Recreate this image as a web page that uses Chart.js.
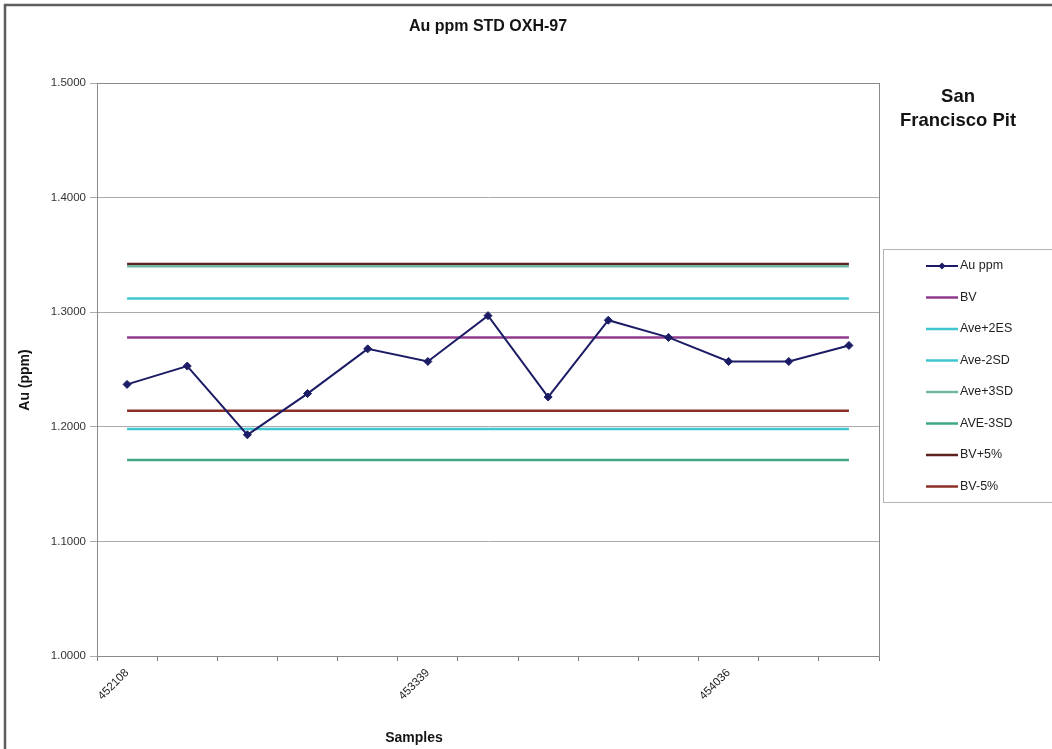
<!DOCTYPE html>
<html>
<head>
<meta charset="utf-8">
<title>Au ppm STD OXH-97</title>
<script src="https://cdn.jsdelivr.net/npm/chart.js@4.4.1/dist/chart.umd.min.js"></script>
<style>
  html, body { margin: 0; padding: 0; background: #ffffff; overflow: hidden; }
  #wrap { position: relative; width: 1052px; height: 749px; }
</style>
</head>
<body>
<div id="wrap"><canvas id="chart" width="1052" height="749"></canvas></div>
<script>
// Sample IDs along the x axis (only every fifth one is printed)
const sampleLabels = ['452108', '', '', '', '', '453339', '', '', '', '', '454036', '', ''];
// Assayed gold values for the standard
const auPpm = [1.237, 1.253, 1.193, 1.229, 1.268, 1.257, 1.297, 1.226, 1.293, 1.278, 1.257, 1.257, 1.271];
// Control limits drawn as horizontal reference lines
const limitNames  = ['BV', 'Ave+2ES', 'Ave-2SD', 'Ave+3SD', 'AVE-3SD', 'BV+5%', 'BV-5%'];
const limitValues = [1.278, 1.312, 1.198, 1.340, 1.171, 1.342, 1.214];
const limitColors = ['#8e3b8e', '#3fc6d0', '#3fc6d0', '#6fb8a4', '#3fa882', '#5e2220', '#8c2f24'];
// Value axis ticks
const yTicks = [1.0, 1.1, 1.2, 1.3, 1.4, 1.5];

const FONT = 'Arial, "Liberation Sans", Helvetica, sans-serif';
const AU_COLOR = '#1c1c66';

const datasets = [{
  label: 'Au ppm',
  data: auPpm,
  borderColor: AU_COLOR,
  backgroundColor: AU_COLOR,
  borderWidth: 2,
  pointStyle: 'rectRot',
  pointRadius: 4,
  pointBorderWidth: 1,
  tension: 0
}];
limitNames.forEach((name, i) => {
  datasets.push({
    label: name,
    data: sampleLabels.map(() => limitValues[i]),
    borderColor: limitColors[i],
    backgroundColor: limitColors[i],
    borderWidth: 2.5,
    pointRadius: 0,
    tension: 0
  });
});

// Frame, titles, side note and legend box
const decorations = {
  id: 'decorations',
  beforeDraw(chart) {
    const ctx = chart.ctx;
    ctx.save();
    ctx.fillStyle = '#ffffff';
    ctx.fillRect(0, 0, chart.width, chart.height);
    ctx.restore();
  },
  afterDraw(chart) {
    const ctx = chart.ctx;
    const area = chart.chartArea;
    ctx.save();

    // plot area outline
    ctx.strokeStyle = '#8a8a8a';
    ctx.lineWidth = 1;
    ctx.strokeRect(area.left + 0.5, area.top + 0.5, area.right - area.left, area.bottom - area.top);

    // outer frame
    ctx.strokeStyle = '#5e5e5e';
    ctx.lineWidth = 2.5;
    ctx.strokeRect(5, 5, chart.width + 20, chart.height + 20);

    ctx.fillStyle = '#141414';
    ctx.textAlign = 'center';
    ctx.textBaseline = 'middle';

    // main title
    ctx.font = 'bold 16px ' + FONT;
    ctx.fillText('Au ppm STD OXH-97', (area.left + area.right) / 2, 27);

    // pit name
    ctx.font = 'bold 18.5px ' + FONT;
    ctx.fillText('San', 958, 97);
    ctx.fillText('Francisco Pit', 958, 121);

    // axis titles
    ctx.font = 'bold 14px ' + FONT;
    ctx.fillText('Samples', 414, 738);
    ctx.save();
    ctx.translate(25, 380);
    ctx.rotate(-Math.PI / 2);
    ctx.fillText('Au (ppm)', 0, 0);
    ctx.restore();

    // legend
    const lx = 883, ly = 249, lw = 200, lh = 253;
    ctx.strokeStyle = '#b4b4b4';
    ctx.lineWidth = 1;
    ctx.strokeRect(lx + 0.5, ly + 0.5, lw, lh);
    ctx.font = '12.5px ' + FONT;
    ctx.textAlign = 'left';
    chart.data.datasets.forEach((ds, i) => {
      const y = 266 + i * 31.5;
      ctx.strokeStyle = ds.borderColor;
      ctx.lineWidth = ds.borderWidth;
      ctx.beginPath();
      ctx.moveTo(926, y);
      ctx.lineTo(958, y);
      ctx.stroke();
      if (ds.pointRadius > 0) {
        ctx.fillStyle = ds.backgroundColor;
        ctx.beginPath();
        ctx.moveTo(942, y - 3.5);
        ctx.lineTo(945.5, y);
        ctx.lineTo(942, y + 3.5);
        ctx.lineTo(938.5, y);
        ctx.closePath();
        ctx.fill();
      }
      ctx.fillStyle = '#222222';
      ctx.fillText(ds.label, 960, y);
    });

    ctx.restore();
  }
};

new Chart(document.getElementById('chart'), {
  type: 'line',
  data: { labels: sampleLabels, datasets },
  plugins: [decorations],
  options: {
    responsive: false,
    animation: false,
    devicePixelRatio: 1,
    layout: { padding: { top: 83, right: 173, bottom: 0, left: 0 } },
    plugins: {
      legend: { display: false },
      title: { display: false },
      tooltip: { enabled: false }
    },
    scales: {
      x: {
        type: 'category',
        offset: true,
        grid: {
          display: true,
          offset: true,
          drawOnChartArea: false,
          drawTicks: true,
          tickLength: 5,
          color: '#7a7a7a'
        },
        border: { display: true, color: '#7a7a7a', width: 1 },
        ticks: {
          autoSkip: false,
          minRotation: 45,
          maxRotation: 45,
          padding: 5,
          color: '#1e1e1e',
          font: { family: FONT, size: 11.5 }
        },
        afterFit(scale) { scale.height = 93; }
      },
      y: {
        min: 1.0,
        max: 1.5,
        afterBuildTicks(scale) { scale.ticks = yTicks.map(v => ({ value: v })); },
        grid: { color: '#ababab', tickLength: 7, lineWidth: 1 },
        border: { display: true, color: '#7a7a7a', width: 1 },
        ticks: {
          padding: 4,
          color: '#333333',
          font: { family: FONT, size: 11.5 },
          callback: v => Number(v).toFixed(4)
        },
        afterFit(scale) { scale.width = 97; }
      }
    }
  }
});
</script>
</body>
</html>
